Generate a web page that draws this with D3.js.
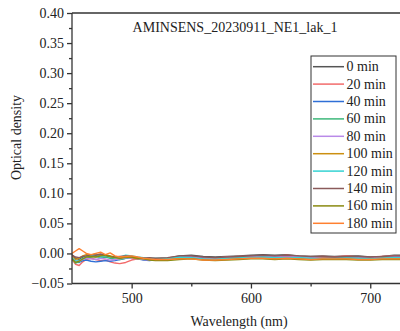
<!DOCTYPE html>
<html><head><meta charset="utf-8">
<script src="https://cdn.jsdelivr.net/npm/d3@7"></script>
<style>body{margin:0;background:#fff;overflow:hidden}svg{display:block}</style>
</head><body><svg id="c" width="400" height="331"></svg>
<script>
const title = "AMINSENS_20230911_NE1_lak_1";
const xLabel = "Wavelength (nm)";
const yLabel = "Optical density";
const xTicks = [500, 600, 700];
const yTicks = [-0.05, 0.00, 0.05, 0.10, 0.15, 0.20, 0.25, 0.30, 0.35, 0.40];
const seriesNames = ["0 min","20 min","40 min","60 min","80 min","100 min","120 min","140 min","160 min","180 min"];
const colors = ["#555555","#f26b6b","#2f6fd6","#3db87a","#b98ae8","#cc8f10","#35d3d3","#8a5a5a","#8a8a10","#ff8030"];
const wavelengths = [450,453,456,459,462,466,470,474,478,482,486,490,495,500,505,510,515,520,530,540,550,560,570,580,590,600,610,620,630,640,650,660,670,680,690,700,710,720,730,740,750];
const s0   = [-0.002,-0.008,-0.010,-0.006,-0.004,-0.003,-0.002,-0.004,-0.003,-0.005,-0.006,-0.007,-0.004,-0.006,-0.008,-0.009,-0.010,-0.009,-0.008,-0.004,-0.003,-0.005,-0.006,-0.005,-0.004,-0.003,-0.002,-0.003,-0.002,-0.004,-0.005,-0.004,-0.005,-0.004,-0.004,-0.006,-0.005,-0.003,-0.003,-0.005,-0.004];
const s20  = [-0.010,-0.018,-0.020,-0.014,-0.010,-0.008,-0.010,-0.012,-0.011,-0.014,-0.016,-0.017,-0.015,-0.011,-0.009,-0.010,-0.011,-0.010,-0.010,-0.006,-0.005,-0.008,-0.008,-0.006,-0.005,-0.005,-0.004,-0.005,-0.003,-0.005,-0.006,-0.005,-0.006,-0.004,-0.006,-0.007,-0.005,-0.004,-0.005,-0.006,-0.005];
const s40  = [-0.006,-0.014,-0.015,-0.012,-0.011,-0.013,-0.014,-0.013,-0.012,-0.013,-0.012,-0.010,-0.008,-0.007,-0.009,-0.011,-0.012,-0.010,-0.009,-0.007,-0.006,-0.008,-0.009,-0.007,-0.006,-0.006,-0.005,-0.006,-0.005,-0.006,-0.007,-0.006,-0.007,-0.006,-0.007,-0.008,-0.007,-0.006,-0.006,-0.007,-0.006];
const s60  = [-0.008,-0.016,-0.014,-0.010,-0.008,-0.006,-0.005,-0.007,-0.006,-0.008,-0.009,-0.010,-0.008,-0.007,-0.008,-0.010,-0.009,-0.009,-0.009,-0.007,-0.007,-0.009,-0.009,-0.008,-0.007,-0.006,-0.006,-0.007,-0.006,-0.006,-0.008,-0.007,-0.007,-0.007,-0.008,-0.008,-0.007,-0.007,-0.007,-0.008,-0.007];
const s80  = [-0.004,-0.012,-0.013,-0.010,-0.008,-0.009,-0.010,-0.008,-0.009,-0.011,-0.010,-0.009,-0.007,-0.008,-0.009,-0.010,-0.011,-0.010,-0.009,-0.006,-0.006,-0.008,-0.009,-0.007,-0.006,-0.006,-0.005,-0.006,-0.005,-0.006,-0.007,-0.006,-0.007,-0.006,-0.007,-0.008,-0.006,-0.006,-0.006,-0.007,-0.006];
const s100 = [-0.005,-0.010,-0.008,-0.004,-0.002,-0.003,-0.001,-0.004,-0.002,-0.004,-0.006,-0.008,-0.006,-0.007,-0.009,-0.008,-0.010,-0.009,-0.010,-0.008,-0.008,-0.010,-0.010,-0.009,-0.008,-0.007,-0.007,-0.008,-0.007,-0.008,-0.009,-0.008,-0.008,-0.008,-0.009,-0.009,-0.008,-0.008,-0.008,-0.009,-0.008];
const s120 = [-0.007,-0.013,-0.012,-0.008,-0.005,-0.004,-0.003,-0.006,-0.004,-0.006,-0.007,-0.006,-0.003,-0.004,-0.006,-0.007,-0.008,-0.008,-0.008,-0.006,-0.007,-0.009,-0.010,-0.008,-0.007,-0.007,-0.006,-0.007,-0.007,-0.007,-0.008,-0.009,-0.008,-0.007,-0.008,-0.009,-0.008,-0.007,-0.007,-0.008,-0.008];
const s140 = [-0.003,-0.006,-0.007,-0.005,-0.004,-0.002,-0.003,-0.001,-0.003,-0.005,-0.006,-0.005,-0.004,-0.005,-0.007,-0.008,-0.007,-0.008,-0.007,-0.004,-0.004,-0.006,-0.007,-0.006,-0.005,-0.004,-0.003,-0.004,-0.003,-0.004,-0.005,-0.005,-0.006,-0.005,-0.005,-0.006,-0.005,-0.004,-0.004,-0.005,-0.005];
const s160 = [-0.009,-0.015,-0.013,-0.009,-0.006,-0.005,-0.006,-0.004,-0.003,-0.005,-0.007,-0.008,-0.006,-0.006,-0.008,-0.009,-0.011,-0.012,-0.012,-0.010,-0.009,-0.011,-0.012,-0.011,-0.010,-0.009,-0.009,-0.010,-0.009,-0.010,-0.011,-0.010,-0.010,-0.010,-0.011,-0.011,-0.010,-0.010,-0.010,-0.011,-0.010];
const s180 = [0.000,0.004,0.008,0.004,0.000,-0.002,0.000,0.002,-0.002,0.001,-0.004,-0.006,-0.005,-0.004,-0.006,-0.008,-0.009,-0.010,-0.010,-0.009,-0.009,-0.011,-0.011,-0.010,-0.009,-0.008,-0.008,-0.009,-0.008,-0.009,-0.010,-0.009,-0.009,-0.009,-0.010,-0.010,-0.009,-0.009,-0.009,-0.010,-0.009];
const seriesValues = [s0,s20,s40,s60,s80,s100,s120,s140,s160,s180];

const FONT = "Liberation Serif, Tinos, Times New Roman, DejaVu Serif, serif";
const FS = 14;
const svg = d3.select("#c");
const L = 72, T = 13, B = 283.5;
const x = d3.scaleLinear().domain([450, 750]).range([L, L + 300 * 1.193]);
const y = d3.scaleLinear().domain([-0.05, 0.40]).range([B, T]);
const frame = "#333";

svg.append("defs").append("clipPath").attr("id","clip").append("rect")
  .attr("x", L).attr("y", T).attr("width", 400 - L).attr("height", B - T);

const line = d3.line().x((d,i)=>x(wavelengths[i])).y(d=>y(d));
const g = svg.append("g").attr("clip-path","url(#clip)");
seriesValues.forEach((vals,k)=>{
  g.append("path").attr("d", line(vals)).attr("fill","none")
    .attr("stroke", colors[k]).attr("stroke-width",1.4).attr("stroke-linejoin","round");
});

const xAxis = d3.axisBottom(x).tickValues(xTicks).tickSize(5).tickPadding(4.5).tickFormat(d3.format("d"));
const xMinor = d3.axisBottom(x).tickValues([550,650]).tickSize(3).tickFormat("");
const yAxis = d3.axisLeft(y).tickValues(yTicks).tickSize(5).tickPadding(3).tickFormat(d3.format(".2f"));
const yMinor = d3.axisLeft(y).tickValues(d3.range(-0.025, 0.40, 0.05)).tickSize(3).tickFormat("");

function style(sel){
  sel.attr("font-family", FONT).attr("font-size", FS);
  sel.selectAll(".domain").remove();
  sel.selectAll("line").attr("stroke", frame).attr("stroke-width",1.3);
  sel.selectAll("text").attr("fill","#222");
}
svg.append("g").attr("transform",`translate(0,${B})`).call(xAxis).call(style);
svg.append("g").attr("transform",`translate(0,${B})`).call(xMinor).call(style);
svg.append("g").attr("transform",`translate(${L},0)`).call(yAxis).call(style);
svg.append("g").attr("transform",`translate(${L},0)`).call(yMinor).call(style);

svg.append("line").attr("x1",L).attr("x2",400).attr("y1",T).attr("y2",T).attr("stroke",frame).attr("stroke-width",1.3);
svg.append("line").attr("x1",L).attr("x2",400).attr("y1",B).attr("y2",B).attr("stroke",frame).attr("stroke-width",1.3);
svg.append("line").attr("x1",L).attr("x2",L).attr("y1",T).attr("y2",B).attr("stroke",frame).attr("stroke-width",1.3);

const txt = (sel)=>sel.attr("font-family", FONT).attr("font-size", FS).attr("fill","#222");
svg.append("text").attr("x",235).attr("y",32).attr("text-anchor","middle").call(txt).text(title);
svg.append("text").attr("x",239).attr("y",325.5).attr("text-anchor","middle").call(txt).text(xLabel);
svg.append("text").attr("transform",`translate(20.5,137.5) rotate(-90)`).attr("text-anchor","middle").call(txt).text(yLabel);

const lg = svg.append("g");
lg.append("rect").attr("x",311).attr("y",56).attr("width",85).attr("height",177)
  .attr("fill","#fff").attr("stroke",frame).attr("stroke-width",1);
seriesNames.forEach((n,k)=>{
  const yy = 66.7 + k*17.4;
  lg.append("line").attr("x1",313).attr("x2",344).attr("y1",yy).attr("y2",yy).attr("stroke",colors[k]).attr("stroke-width",1.5);
  lg.append("text").attr("x",346.5).attr("y",yy+4.5).call(txt).text(n);
});
</script></body></html>
